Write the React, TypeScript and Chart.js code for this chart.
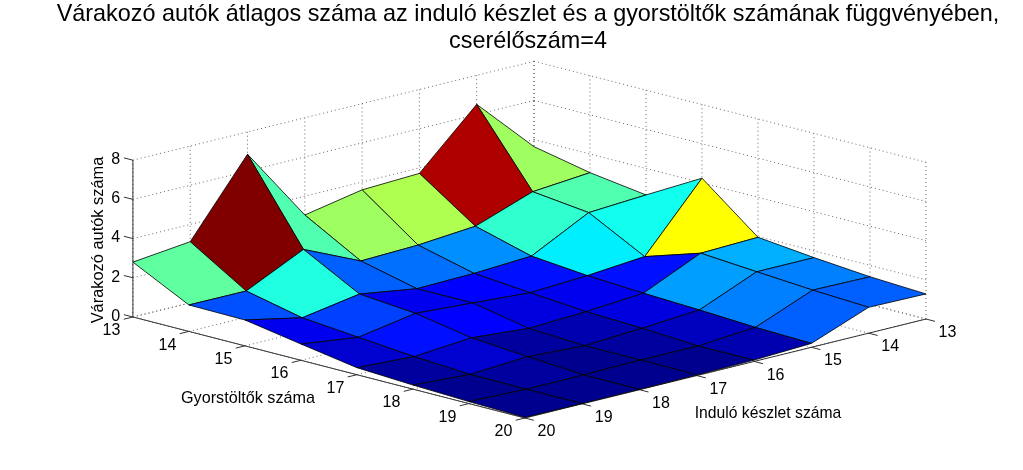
import React, { useEffect, useRef } from "react";
import { Chart, registerables } from "chart.js";

Chart.register(...registerables);

const TITLE = [
  "Várakozó autók átlagos száma az induló készlet és a gyorstöltők számának függvényében,",
  "cserélőszám=4",
];
const GYORS_LABEL = "Gyorstöltők száma";
const INDULO_LABEL = "Induló készlet száma";
const Z_LABEL = "Várakozó autók száma";

const gyorsTicks = [13, 14, 15, 16, 17, 18, 19, 20];
const indulo = [13, 14, 15, 16, 17, 18, 19, 20];
const zTicks = [0, 2, 4, 6, 8];

// one row per "Gyorstöltők száma"; columns follow "Induló készlet száma" 13..20
const gyors13 = [3.64, 6.52, 3.72, 3.6, 3.04, 6.86, 3.12, 2.8];
const gyors14 = [3.05, 2.8, 1.76, 1.52, 1.43, 2.74, 1.34, 1.35];
const gyors15 = [2.65, 2.47, 0.97, 0.81, 0.75, 1.2, 0.71, 1.32];
const gyors16 = [4.24, 0.96, 0.71, 0.56, 0.76, 0.95, 0.45, 0.83];
const gyors17 = [1.96, 1.87, 0.55, 0.33, 0.2, 0.44, 0.2, 0.36];
const gyors18 = [1.66, 1.66, 0.43, 0.22, 0.05, 0.21, 0.03, 0.21];
const gyors19 = [1.42, 1.46, 0.28, 0.05, 0.06, 0.02, 0.01, 0.1];
const gyors20 = [1.28, 1.32, 0.2, 0.07, 0.03, 0.02, 0.02, 0.03];
const waiting = [gyors13, gyors14, gyors15, gyors16, gyors17, gyors18, gyors19, gyors20];

// Orthographic view: where the box sits on the page
const VIEW = {
  backX: 534, backY: 218,
  gStepX: 56, gStepY: 14.43,
  iStepX: -57.3, iStepY: 14.14,
  zStep: 19.6,
};
const project = (g: number, i: number, z: number) => ({
  x: VIEW.backX + VIEW.gStepX * (g - 13) + VIEW.iStepX * (i - 13),
  y: VIEW.backY + VIEW.gStepY * (g - 13) + VIEW.iStepY * (i - 13) - VIEW.zStep * z,
});

const jet = (value: number, lo: number, hi: number) => {
  const idx = Math.min(63, Math.floor(((value - lo) / (hi - lo)) * 64));
  const v = (idx + 1) / 64;
  const c = (t: number) => Math.round(255 * Math.max(0, Math.min(1, t)));
  const r = c(Math.min(4 * v - 1.5, -4 * v + 4.5));
  const g = c(Math.min(4 * v - 0.5, -4 * v + 3.5));
  const b = c(Math.min(4 * v + 0.5, -4 * v + 2.5));
  return `rgb(${r},${g},${b})`;
};

const GRID = { borderColor: "#666666", borderWidth: 1, borderDash: [1, 3] };
const AXIS = { borderColor: "#333333", borderWidth: 1 };

const lineSet = (pts: { x: number; y: number }[], style: object) => ({
  data: pts,
  showLine: true,
  pointRadius: 0,
  fill: false,
  tension: 0,
  ...style,
});

const buildDatasets = () => {
  const underlay: any[] = [];
  const G0 = gyorsTicks[0], G1 = gyorsTicks[7], I0 = indulo[0], I1 = indulo[7];
  const Z0 = zTicks[0], Z1 = zTicks[4];
  const TICK = 0.16;
  // floor grid
  gyorsTicks.forEach((g) => underlay.push(lineSet([project(g, I0, Z0), project(g, I1, Z0)], GRID)));
  indulo.forEach((i) => underlay.push(lineSet([project(G0, i, Z0), project(G1, i, Z0)], GRID)));
  // back walls
  indulo.forEach((i) => underlay.push(lineSet([project(G0, i, Z0), project(G0, i, Z1)], GRID)));
  gyorsTicks.forEach((g) => underlay.push(lineSet([project(g, I0, Z0), project(g, I0, Z1)], GRID)));
  zTicks.forEach((z) => {
    underlay.push(lineSet([project(G0, I1, z), project(G0, I0, z)], GRID));
    underlay.push(lineSet([project(G0, I0, z), project(G1, I0, z)], GRID));
  });
  // axes and ticks
  underlay.push(lineSet([project(G0, I1, Z0), project(G0, I1, Z1)], AXIS));
  underlay.push(lineSet([project(G0, I1, Z0), project(G1, I1, Z0)], AXIS));
  underlay.push(lineSet([project(G1, I1, Z0), project(G1, I0, Z0)], AXIS));
  gyorsTicks.forEach((g) => underlay.push(lineSet([project(g, I1, Z0), project(g, I1 + TICK, Z0)], AXIS)));
  indulo.forEach((i) => underlay.push(lineSet([project(G1, i, Z0), project(G1 + TICK, i, Z0)], AXIS)));
  zTicks.forEach((z) => underlay.push(lineSet([project(G0, I1, z), project(G0 - TICK, I1, z)], AXIS)));

  const flat = waiting.flat();
  const lo = Math.min(...flat), hi = Math.max(...flat);
  const faces: { order: number; set: any }[] = [];
  for (let a = 0; a < 7; a++) {
    for (let c = 0; c < 7; c++) {
      const pts = [
        project(gyorsTicks[a], indulo[c], waiting[a][c]),
        project(gyorsTicks[a + 1], indulo[c], waiting[a + 1][c]),
        project(gyorsTicks[a + 1], indulo[c + 1], waiting[a + 1][c + 1]),
        project(gyorsTicks[a], indulo[c + 1], waiting[a][c + 1]),
        project(gyorsTicks[a], indulo[c], waiting[a][c]),
      ];
      faces.push({
        order: a + c,
        set: lineSet(pts, {
          fill: "shape",
          backgroundColor: jet(waiting[a][c], lo, hi),
          borderColor: "rgba(0,0,0,0.8)",
          borderWidth: 1,
        }),
      });
    }
  }
  faces.sort((p, q) => p.order - q.order);
  // Chart.js paints the first dataset last, so nearest faces go first
  return [...faces.map((f) => f.set).reverse(), ...underlay.reverse()];
};

const textPlugin = {
  id: "boxText",
  afterDatasetsDraw(chart: any) {
    const { ctx, scales } = chart;
    const put = (text: string, x: number, y: number, size: number) => {
      ctx.font = `${size}px "Liberation Sans"`;
      ctx.fillStyle = "#000";
      ctx.textAlign = "center";
      ctx.textBaseline = "middle";
      ctx.fillText(text, x, y);
    };
    const at = (text: string, p: { x: number; y: number }, dx: number, dy: number, size: number) =>
      put(text, scales.x.getPixelForValue(p.x) + dx, scales.y.getPixelForValue(p.y) + dy, size);
    ctx.save();
    gyorsTicks.forEach((g) => at(String(g), project(g, 20, 0), -21.5, 13.7, 16));
    indulo.forEach((i) => at(String(i), project(20, i, 0), 21.5, 13.7, 16));
    zTicks.forEach((z) => at(String(z), project(13, 20, z), -17.3, -0.5, 16));
    at(GYORS_LABEL, { x: 248, y: 398.5 }, 0, 0, 16.2);
    at(INDULO_LABEL, { x: 768, y: 413.5 }, 0, 0, 15.7);
    ctx.translate(scales.x.getPixelForValue(98), scales.y.getPixelForValue(240));
    ctx.rotate(-Math.PI / 2);
    put(Z_LABEL, 0, 0, 16.4);
    ctx.restore();
  },
};

export default function App() {
  const ref = useRef<HTMLCanvasElement>(null);
  useEffect(() => {
    document.body.style.margin = "0";
    const chart = new Chart(ref.current as HTMLCanvasElement, {
      type: "scatter",
      data: { datasets: buildDatasets() as any },
      options: {
        animation: false,
        responsive: false,
        devicePixelRatio: 1,
        layout: { padding: { left: 33, top: 0, right: 0, bottom: 0 } },
        scales: {
          x: { type: "linear", min: 33, max: 1023, display: false },
          y: { type: "linear", min: 58, max: 470, reverse: true, display: false },
        },
        plugins: {
          legend: { display: false },
          tooltip: { enabled: false },
          title: {
            display: true,
            text: TITLE,
            fullSize: false,
            color: "#000",
            font: { family: '"Liberation Sans"', size: 23.4, weight: "normal", lineHeight: 1.15 },
            padding: { top: 1.5, bottom: 2.7 },
          },
        },
      } as any,
      plugins: [textPlugin as any],
    });
    return () => chart.destroy();
  }, []);
  return (
    <div style={{ width: 1023, height: 470, background: "#fff" }}>
      <canvas ref={ref} width={1023} height={470} style={{ display: "block" }} />
    </div>
  );
}
